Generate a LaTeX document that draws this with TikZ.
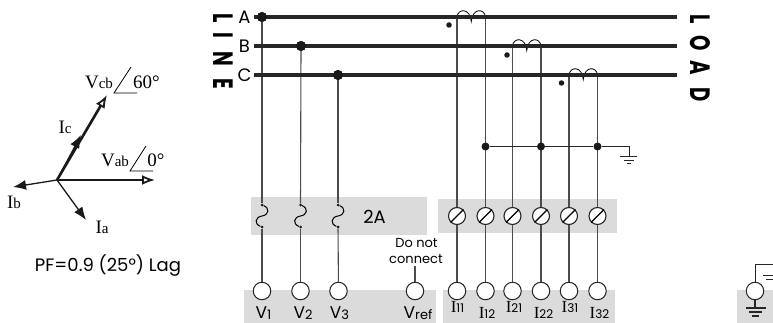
\documentclass[tikz,border=0pt]{standalone}
\usepackage{fontspec}
\setmainfont{Poppins}
\newfontfamily\phfont{Liberation Serif}
\usetikzlibrary{arrows.meta}
\newcommand{\vlbl}[2]{{\fontsize{17}{17}\selectfont #1\raisebox{-1pt}{\fontsize{13}{13}\selectfont #2}}}
\newcommand{\ilbl}[2]{{\fontsize{17}{17}\selectfont\phfont #1}{\fontsize{12}{12}\selectfont #2}}
\newcommand{\phlbl}[2]{{\phfont\fontsize{19}{19}\selectfont #1\fontsize{15}{15}\selectfont #2}}
\begin{document}
\begin{tikzpicture}[
        x=1pt, y=-1pt,
        bus/.style={line width=3.5pt, black!85},
        wire/.style={line width=1.1pt, black!70},
        thin wire/.style={line width=1pt, black!85},
        joint/.style={circle, fill=black!90, inner sep=0pt, minimum size=#1},
        graybox/.style={fill=black!14, draw=none},
        terminal/.style={circle, draw=black!85, fill=white, line width=1pt, minimum size=17.5pt, inner sep=0pt},
        screw/.style={circle, draw=black!85, fill=white, line width=1.1pt, minimum size=17pt, inner sep=0pt},
        letter/.style={rotate=-90, xscale=.7, font=\bfseries\fontsize{28}{28}\selectfont, inner sep=0pt},
        txt/.style={inner sep=0pt, font=\fontsize{18}{18}\selectfont},
        small txt/.style={inner sep=0pt, font=\fontsize{13}{13}\selectfont},
        tag/.style={inner sep=0pt, anchor=base},
        phasor/.style={line width=#1, black!90},
        solid head/.style={-{Latex[length=13pt, width=10pt]}},
        open head/.style={-{Latex[open, length=13pt, width=10pt, line width=1.8pt]}}
      ]
      \useasboundingbox (0,0) rectangle (773,323);
      \fill[graybox] (251,197) rectangle (427,235);
      \fill[graybox] (438,199) rectangle (617,233);
      \fill[graybox] (244,290) rectangle (436,323);
      \fill[graybox] (443,290) rectangle (615,323);
      \fill[graybox] (737,290) rectangle (773,323);

      \foreach \name/\ypos in {a/17, b/46, c/75} {
        \coordinate (\name w) at (254,\ypos);
        \coordinate (\name e) at (677,\ypos);
      }

      \node[joint=10pt] (ja) at (262,17) {};
      \node[joint=10pt] (jb) at (301,46) {};
      \node[joint=10pt] (jc) at (338,75) {};
      \node[txt] (la) at (244.5,17) {A};
      \node[txt] (lb) at (244.5,46) {B};
      \node[txt] (lc) at (244.5,75) {C};

      \node[terminal] (v1) at (262,291) {};
      \node[terminal] (v2) at (300.5,291) {};
      \node[terminal] (v3) at (338.5,291) {};
      \node[terminal] (vref) at (415,291) {};
      \node[tag] (tv1) at (263.5,318) {\vlbl{V}{1}};
      \node[tag] (tv2) at (303,318) {\vlbl{V}{2}};
      \node[tag] (tv3) at (339.5,318) {\vlbl{V}{3}};
      \node[tag] (tvref) at (418,318) {\vlbl{V}{ref}};
      \node[small txt] (donot) at (416.5,243) {Do not};
      \node[small txt] (connect) at (416,259) {connect};
      \node[txt] (twoa) at (374.5,217) {2A};
      \coordinate (vrefup) at (415,266);
      \draw[wire] (vref) -- (vrefup);

      \foreach \name/\xpos in {v1/262, v2/300.5, v3/338} {
        \node[joint=3pt] (\name top) at (\xpos,205) {};
        \node[joint=3pt] (\name bot) at (\xpos,227) {};
        \draw[line width=1pt] (\name top) .. controls (\xpos+8,208) and (\xpos+7,215) .. (\xpos,216)
          .. controls (\xpos-7,217) and (\xpos-8,224) .. (\name bot);
        \draw[wire] (\name bot) -- (\name);
      }
      \draw[wire] (ja) -- (v1top);
      \draw[wire] (jb) -- (v2top);
      \draw[wire] (jc) -- (v3top);

      \foreach \name/\xpos in {i11/457, i12/485.5, i21/512.5, i22/541, i31/569, i32/597.5} {
        \node[terminal] (\name) at (\xpos,291) {};
        \node[screw] (\name s) at (\xpos,216) {};
        \draw[line width=1.4pt] (\name s.225) -- (\name s.45);
        \draw[wire] (\name s) -- (\name);
      }
      \node[tag] (ti11) at (457.5,312.5) {\ilbl{I}{11}};
      \node[tag] (ti12) at (487,318.5) {\ilbl{I}{12}};
      \node[tag] (ti21) at (514,312.5) {\ilbl{I}{21}};
      \node[tag] (ti22) at (543.5,318.5) {\ilbl{I}{22}};
      \node[tag] (ti31) at (570,312.5) {\ilbl{I}{31}};
      \node[tag] (ti32) at (599.5,318.5) {\ilbl{I}{32}};

      \foreach \one/\two/\xa/\xb/\yl in {i11/i12/457/485.5/17, i21/i22/512.5/541/46, i31/i32/569/597.5/75} {
        \coordinate (\one t) at (\xa,\yl);
        \coordinate (\two t) at (\xb,\yl);
        \coordinate (\one k) at ({(\xa+\xb)/2},\yl+4.5);
        \draw[wire] (\one t) -- (\one s);
        \draw[wire] (\two t) -- (\two s);
        \draw[line width=0.8pt] (\one t) .. controls (\xa+1,\yl-9) and ({(\xa+\xb)/2-1},\yl-9) .. (\one k)
          .. controls ({(\xa+\xb)/2+1},\yl-9) and (\xb-1,\yl-9) .. (\two t);
      }
      \draw[bus] (aw) -- (ae);
      \draw[bus] (bw) -- (be);
      \draw[bus] (cw) -- (ce);
      \node[joint=10pt] at (ja) {};
      \node[joint=10pt] at (jb) {};
      \node[joint=10pt] at (jc) {};

      \node[joint=5.5pt] (dot1) at (449,25) {};
      \node[joint=5.5pt] (dot2) at (507,55) {};
      \node[joint=5.5pt] (dot3) at (561.5,83) {};

      \node[joint=8pt] (g1) at (485.5,146.5) {};
      \node[joint=8pt] (g2) at (541,146.5) {};
      \node[joint=8pt] (g3) at (597.5,146.5) {};
      \coordinate (gc) at (629,146.5);
      \coordinate (gd) at (629,157);
      \draw[thin wire] (g1) -- (g2) -- (g3) -- (gc) -- (gd);
      \draw[thin wire] (620,157) -- (637,157) (624,160.5) -- (634,160.5) (627,164) -- (631,164);

      \coordinate (rtop) at (755,264.5);
      \coordinate (rtopb) at (773,264.5);
      \coordinate (rtopc) at (773,275);
      \coordinate (rbot) at (755,308);
      \node[terminal] (rt) at (755,291) {};
      \draw[thin wire] (rt) -- (rtop) -- (rtopb) -- (rtopc);
      \draw[thin wire] (763,275) -- (773,275) (766,279) -- (773,279);
      \draw[line width=1.5pt, black!85] (rt) -- (rbot);
      \draw[line width=1.5pt, black!85] (746,308) -- (766,308) (749,312) -- (762,312) (752,316) -- (759,316);

      \foreach \txt/\ypos in {L/18, I/35, N/59, E/84} {
        \node[letter] (line\txt) at (223,\ypos) {\txt};
      }
      \foreach \txt/\ypos in {L/19, O/43, A/68, D/95} {
        \node[letter] (load\txt) at (700,\ypos) {\txt};
      }

      \coordinate (o) at (57,180);
      \coordinate (vab) at (155,180);
      \coordinate (vcb) at (107,95);
      \coordinate (ic) at (81,135);
      \coordinate (ib) at (13,187);
      \coordinate (ia) at (86,220);
      \draw[phasor=2.6pt, open head] (o) -- (vab);
      \draw[phasor=2.6pt, open head] (o) -- (vcb);
      \draw[phasor=1.3pt, solid head] (o) -- (ic);
      \draw[phasor=1.3pt, solid head] (o) -- (ib);
      \draw[phasor=1.3pt, solid head] (o) -- (ia);
      \node[inner sep=0pt] (tvcb) at (99,82) {\phlbl{V}{cb}};
      \node[inner sep=0pt] (t60) at (146.5,82) {\phfont\fontsize{19}{19}\selectfont 60°};
      \node[inner sep=0pt] (tvab) at (115,160) {\phlbl{V}{ab}};
      \node[inner sep=0pt] (t0) at (156,160) {\phfont\fontsize{19}{19}\selectfont 0°};
      \draw[line width=0.8pt] (131,67) -- (114,93) -- (137,93);
      \draw[line width=0.8pt] (146,146) -- (130,171) -- (153,171);
      \node[inner sep=0pt] (tic) at (65,127) {\phlbl{I}{c}};
      \node[inner sep=0pt] (tib) at (14,202) {\phlbl{I}{b}};
      \node[inner sep=0pt] (tia) at (102,227) {\phlbl{I}{a}};
      \node[txt] (pf) at (108,266) {PF=0.9 (25°) Lag};
    \end{tikzpicture}
\end{document}
